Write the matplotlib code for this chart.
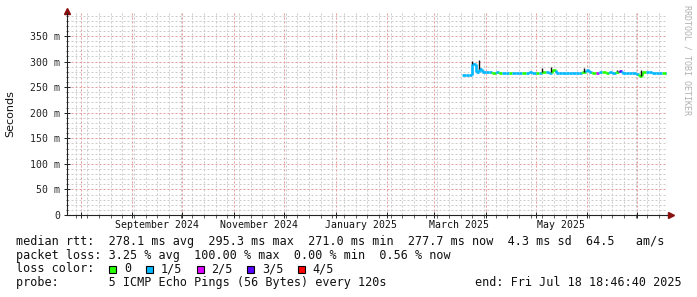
import datetime as dt
import matplotlib
matplotlib.use("Agg")
import matplotlib.pyplot as plt
import matplotlib.dates as mdates
from matplotlib.ticker import MultipleLocator, FuncFormatter
from matplotlib.patches import Rectangle

END = dt.datetime(2025, 7, 18, 18, 46, 40)
START = END - dt.timedelta(days=360)

# median rtt (ms), one sample every 2 days from 18 Mar 2025
first_sample = dt.datetime(2025, 3, 18)
step_days = 2
median_ms = [
    273.0, 273.0, 273.5, 295.0, 280.0, 285.0, 280.0, 280.0, 279.0, 278.5,
    279.0, 278.0, 278.5, 278.0, 277.5, 278.0, 278.0, 277.5, 278.0, 277.0,
    279.0, 278.0, 277.5, 278.0, 279.0, 280.0, 278.0, 284.0, 278.0, 277.5,
    278.0, 277.5, 278.0, 278.0, 277.5, 278.0, 279.0, 283.0, 279.0, 278.0,
    278.5, 279.0, 279.0, 278.5, 279.0, 278.0, 280.0, 281.0, 277.0, 277.5,
    278.0, 277.0, 276.0, 271.0, 280.0, 280.5, 279.0, 278.0, 278.5, 278.0,
    278.0, 277.7,
]
# loss colour index per sample (0 = no loss, 1 = 1/5, ...)
loss_idx = [
    1, 1, 1, 1, 1, 1, 1, 1, 1, 0,
    1, 0, 1, 1, 0, 1, 1, 1, 0, 1,
    1, 1, 0, 1, 0, 1, 1, 0, 1, 1,
    1, 1, 1, 1, 1, 1, 0, 1, 1, 0,
    2, 1, 0, 0, 1, 1, 0, 3, 1, 1,
    1, 1, 1, 0, 0, 1, 1, 1, 1, 1,
    0, 1,
]

# smoke peaks (max rtt of the pings)
spike_dates = ["2025-03-24", "2025-03-28", "2025-05-05", "2025-05-10",
               "2025-05-30", "2025-06-19", "2025-07-03"]
spike_max = [302, 303, 287, 289, 287, 284, 284]

loss_labels = ["0", "1/5", "2/5", "3/5", "4/5"]
loss_colors = ["#26ff00", "#00b8ff", "#dd00ff", "#5a00ff", "#ff0000"]

MONO = "DejaVu Sans Mono"
W, H = 697, 297


def fx(px):
    return px / W


def fy(py):
    return 1 - py / H


fig = plt.figure(figsize=(W / 100, H / 100), dpi=100)
fig.patch.set_facecolor("white")
ax = fig.add_axes([fx(67), fy(215), 600 / W, 202 / H])
ax.set_xlim(START, END)
ax.set_ylim(0, 395)
ax.set_axisbelow(True)

# grid
ax.yaxis.set_major_locator(MultipleLocator(50))
ax.yaxis.set_minor_locator(MultipleLocator(10))
ax.xaxis.set_major_locator(mdates.MonthLocator())
ax.xaxis.set_minor_locator(mdates.WeekdayLocator(byweekday=mdates.MO))
ax.grid(which="minor", color="#cccccc", linestyle=(0, (2, 2)), linewidth=0.72)
ax.grid(which="major", color="#e69a9a", linestyle=(0, (2, 2)), linewidth=0.72)
ax.yaxis.set_major_formatter(FuncFormatter(lambda v, p: "0" if v == 0 else f"{int(v)} m"))
ax.xaxis.set_major_formatter(FuncFormatter(lambda v, p: ""))
ax.tick_params(axis="y", which="major", direction="inout", length=4, width=0.7,
               pad=3, labelsize=7.1, colors="#222222")
ax.tick_params(axis="y", which="minor", direction="inout", length=2, width=0.6, colors="#444444")
ax.tick_params(axis="x", which="major", direction="inout", length=4, width=0.7, colors="#222222")
ax.tick_params(axis="x", which="minor", direction="out", length=2, width=0.6, colors="#444444")
for lab in ax.get_yticklabels():
    lab.set_family(MONO)

for s in ["top", "right"]:
    ax.spines[s].set_visible(False)
for s in ["left", "bottom"]:
    ax.spines[s].set_color("#222222")
    ax.spines[s].set_linewidth(0.8)

# axis arrows
ax.plot([0, 0], [1, 1.01], transform=ax.transAxes, color="#222222", lw=0.8, clip_on=False)
ax.plot([1, 1.006], [0, 0], transform=ax.transAxes, color="#222222", lw=0.8, clip_on=False)
ax.plot([0], [1.012], marker="^", ms=4.5, color="#8b1010", transform=ax.transAxes, clip_on=False)
ax.plot([1.007], [0], marker=">", ms=4.5, color="#8b1010", transform=ax.transAxes, clip_on=False)

# month labels (centred mid month, every second month)
for d, txt in [(dt.datetime(2024, 9, 16), "September 2024"),
               (dt.datetime(2024, 11, 16), "November 2024"),
               (dt.datetime(2025, 1, 16), "January 2025"),
               (dt.datetime(2025, 3, 16), "March 2025"),
               (dt.datetime(2025, 5, 16), "May 2025")]:
    ax.text(mdates.date2num(d), -0.05, txt, transform=ax.get_xaxis_transform(),
            ha="center", va="center", family=MONO, fontsize=7.1, color="#111111")

# median line coloured by loss
dates = [first_sample + dt.timedelta(days=step_days * i) for i in range(len(median_ms))]
ends = dates[1:] + [END]
ax.hlines(median_ms, dates, ends, colors=[loss_colors[i] for i in loss_idx], lw=1.9, zorder=3)
ax.vlines(dates[1:], median_ms[:-1], median_ms[1:],
          colors=[loss_colors[i] for i in loss_idx[1:]], lw=1.9, zorder=3)

# smoke peaks
for ds, top in zip(spike_dates, spike_max):
    d = dt.datetime.fromisoformat(ds)
    j = min(range(len(dates)), key=lambda k: abs((dates[k] - d).total_seconds()))
    ax.vlines(d, median_ms[j] + 1, top, colors="#111111", lw=1.0, zorder=4)

fig.text(fx(10), fy(114), "Seconds", rotation=90, ha="center", va="center",
         family="DejaVu Sans", fontsize=8, color="#111111")
fig.text(fx(687), fy(5), "RRDTOOL / TOBI OETIKER", rotation=270, ha="center", va="top",
         family=MONO, fontsize=6, color="#b0b0b0")

# legend block
rows = [
    "median rtt:  278.1 ms avg  295.3 ms max  271.0 ms min  277.7 ms now  4.3 ms sd  64.5   am/s",
    "packet loss: 3.25 % avg  100.00 % max  0.00 % min  0.56 % now",
    "loss color:",
    "probe:       5 ICMP Echo Pings (56 Bytes) every 120s",
]
row_y = [241.7, 255.2, 268.8, 282.6]
for txt, y in zip(rows, row_y):
    fig.text(fx(16.5), fy(y), txt, ha="left", va="center", family=MONO,
             fontsize=8.5, color="#111111")
fig.text(fx(682), fy(row_y[3]), "end: Fri Jul 18 18:46:40 2025", ha="right", va="center",
         family=MONO, fontsize=8.5, color="#111111")

box_x = [109, 145.7, 196.7, 247.3, 298.3]
lab_x = [124, 160.7, 211, 261.7, 312.3]
for bx, lx, c, lab in zip(box_x, lab_x, loss_colors, loss_labels):
    fig.patches.append(Rectangle((fx(bx), fy(273)), 7 / W, 7.5 / H, transform=fig.transFigure,
                                 facecolor=c, edgecolor="black", linewidth=0.8))
    fig.text(fx(lx), fy(row_y[2]), lab, ha="left", va="center", family=MONO,
             fontsize=8.5, color="#111111")

fig.savefig("out.png", dpi=100, facecolor="white")
